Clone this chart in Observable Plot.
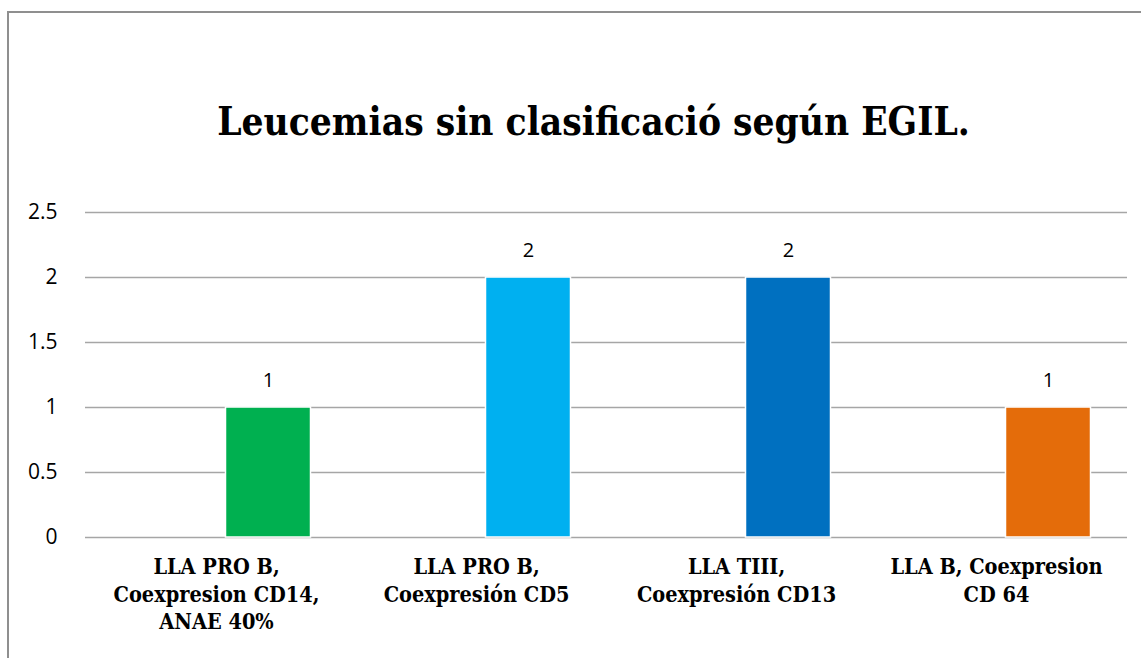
<!DOCTYPE html>
<html>
<head>
<meta charset="utf-8">
<script src="https://cdn.jsdelivr.net/npm/d3@7"></script>
<script src="https://cdn.jsdelivr.net/npm/@observablehq/plot@0.6"></script>
<style>
  html, body { margin: 0; padding: 0; background: #fff; }
  #wrap { position: relative; width: 1141px; height: 658px; overflow: hidden; background: #fff; }
  #frame { position: absolute; left: 7px; top: 11px; width: 1200px; height: 700px; border: 2px solid #8f8f8f; box-sizing: border-box; }
  #title { position: absolute; left: 23px; top: 103px; width: 1141px; text-align: center;
           font-family: "DejaVu Serif Condensed", "DejaVu Serif";
           font-stretch: condensed; font-weight: bold; font-size: 38.5px; line-height: 38px; color: #000; }
  #chart { position: absolute; left: 0; top: 180px; }
  #chart g[aria-label="x-axis tick label"] { font-stretch: condensed; }
</style>
</head>
<body>
<div id="wrap">
  <div id="frame"></div>
  <div id="title">Leucemias sin clasificació según EGIL.</div>
  <div id="chart"></div>
</div>
<script>
const categories = [
  "LLA PRO B,\nCoexpresion CD14,\nANAE 40%",
  "LLA PRO B,\nCoexpresión CD5",
  "LLA TIII,\nCoexpresión CD13",
  "LLA B, Coexpresion\nCD 64"
];
const values = [1, 2, 2, 1];
const colors = ["#00B050", "#00B0F0", "#0070C0", "#E46C0A"];
const yTicks = [0, 0.5, 1, 1.5, 2, 2.5];

const data = categories.map((c, i) => ({category: c, value: values[i], color: colors[i]}));
const sans = "'Open Sans', sans-serif";
const serif = "'DejaVu Serif Condensed', 'DejaVu Serif'";

const chart = Plot.plot({
  width: 1141,
  height: 478,
  marginTop: 32,
  marginBottom: 121,
  marginLeft: 85,
  marginRight: 14,
  x: {domain: categories, padding: 0},
  y: {domain: [0, 2.5], ticks: yTicks},
  style: {background: "transparent", color: "#000"},
  marks: [
    Plot.gridY(yTicks, {stroke: "#a6a6a6", strokeOpacity: 1, strokeWidth: 1.3}),
    Plot.barY(data, {x: "category", y: "value", fill: "color", stroke: "white", strokeWidth: 1.5,
      insetLeft: 87.5, insetRight: 87.5, dx: 52}),
    Plot.text(data, {x: "category", y: "value", text: d => String(d.value), dx: 52, dy: -27,
      fontSize: 20, fontFamily: sans, fill: "#000"}),
    Plot.axisY({ticks: yTicks, tickSize: 0, tickPadding: 28, tickFormat: d => String(d),
      fontSize: 21, fontFamily: sans, label: null}),
    Plot.axisX({tickSize: 0, tickPadding: 17, lineAnchor: "top", lineHeight: 1.28,
      fontSize: 21.5, fontWeight: "bold", fontFamily: serif,
      label: null, textOverflow: null})
  ]
});
document.getElementById("chart").appendChild(chart);
</script>
</body>
</html>
